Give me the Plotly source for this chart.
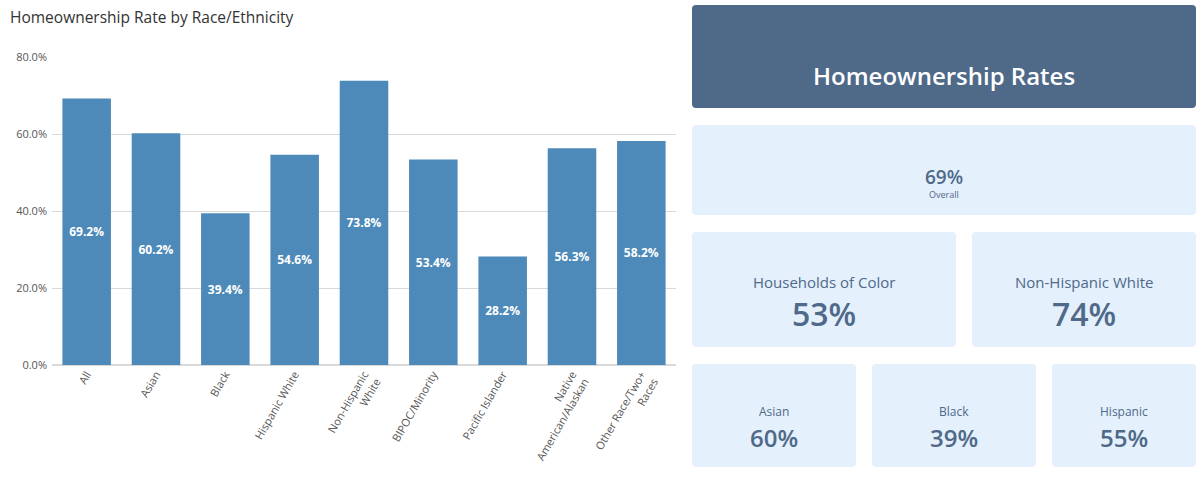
import plotly.graph_objects as go

categories = ["All", "Asian", "Black", "Hispanic White", "Non-Hispanic<br>White",
              "BIPOC/Minority", "Pacific Islander", "Native<br>American/Alaskan",
              "Other Race/Two+<br>Races"]
rates = [69.2, 60.2, 39.4, 54.6, 73.8, 53.4, 28.2, 56.3, 58.2]
y_ticks = [0, 20, 40, 60, 80]

card_title = "Homeownership Rates"
overall_value = "69%"
overall_label = "Overall"
mid_labels = ["Households of Color", "Non-Hispanic White"]
mid_values = ["53%", "74%"]
low_labels = ["Asian", "Black", "Hispanic"]
low_values = ["60%", "39%", "55%"]

W, H = 1204, 481
FONT = "Open Sans"
BAR = "#4d8ab9"
DARK = "#4f6989"
LIGHT = "#e4f0fc"

def px(x):
    return x / W

def py(y):
    return 1 - y / H

fig = go.Figure()
fig.add_trace(go.Bar(
    x=categories, y=rates,
    marker=dict(color=BAR, line=dict(width=0)),
    text=[f"{v:.1f}%" for v in rates],
    textposition="inside", insidetextanchor="middle",
    textfont=dict(color="white", size=12, family=FONT, weight="bold"),
    textangle=0,
    hoverinfo="skip",
))

def rrect(x0, y0, x1, y1, color, r=4):
    path = (f"M {px(x0+r)} {py(y0)} L {px(x1-r)} {py(y0)} "
            f"Q {px(x1)} {py(y0)} {px(x1)} {py(y0+r)} "
            f"L {px(x1)} {py(y1-r)} Q {px(x1)} {py(y1)} {px(x1-r)} {py(y1)} "
            f"L {px(x0+r)} {py(y1)} Q {px(x0)} {py(y1)} {px(x0)} {py(y1-r)} "
            f"L {px(x0)} {py(y0+r)} Q {px(x0)} {py(y0)} {px(x0+r)} {py(y0)} Z")
    return dict(type="path", path=path, xref="paper", yref="paper",
                fillcolor=color, line=dict(width=0), layer="below")

shapes = [
    rrect(692, 5, 1196, 108, DARK),
    rrect(692, 125, 1196, 215, LIGHT),
    rrect(692, 232, 956, 347, LIGHT),
    rrect(972, 232, 1196, 347, LIGHT),
    rrect(692, 364, 856, 467, LIGHT),
    rrect(872, 364, 1036, 467, LIGHT),
    rrect(1052, 364, 1196, 467, LIGHT),
]

ann = []
def txt(x, y, s, size, color=DARK, weight="normal"):
    ann.append(dict(x=px(x), y=py(y), xref="paper", yref="paper", text=s,
                    showarrow=False, xanchor="center", yanchor="middle",
                    font=dict(family=FONT, size=size, color=color, weight=weight)))

ann.append(dict(x=px(8), y=py(17), xref="paper", yref="paper",
                text="Homeownership Rate by Race/Ethnicity", showarrow=False,
                xanchor="left", yanchor="middle",
                font=dict(family=FONT, size=15.5, color="#333333", weight=500)))

txt(944, 75, card_title, 24, "white", 600)
txt(944, 177, overall_value, 19, DARK, 600)
txt(944, 194, overall_label, 9, DARK, 500)
mid_centers = [824, 1084]
for cx, lab, val in zip(mid_centers, mid_labels, mid_values):
    txt(cx, 282, lab, 15, DARK, 500)
    txt(cx, 313, val, 32, DARK, 600)
low_centers = [774, 954, 1124]
for cx, lab, val in zip(low_centers, low_labels, low_values):
    txt(cx, 411, lab, 12, DARK, 500)
    txt(cx, 437, val, 24, DARK, 600)

fig.update_layout(
    width=W, height=H,
    margin=dict(l=0, r=0, t=0, b=0, autoexpand=False),
    paper_bgcolor="white", plot_bgcolor="white",
    showlegend=False, bargap=0.3,
    font=dict(family=FONT),
    shapes=shapes, annotations=ann,
    xaxis=dict(domain=[px(52), px(676)], tickangle=-60, automargin=False,
               tickfont=dict(size=11, color="#555555", family=FONT),
               showgrid=False, showline=False, ticks=""),
    yaxis=dict(domain=[py(365), py(57)], range=[0, 80], tickvals=y_ticks,
               automargin=False, ticklabelstandoff=4,
               ticktext=[f"{v:.1f}%" for v in y_ticks],
               tickfont=dict(size=11, color="#555555", family=FONT),
               showgrid=True, gridcolor="#d9d9d9", gridwidth=1,
               zeroline=True, zerolinecolor="#d9d9d9", showline=False),
)

fig.write_html("out.html")
